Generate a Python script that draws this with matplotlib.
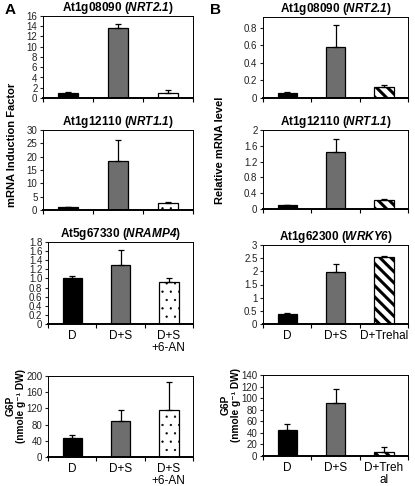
import matplotlib
matplotlib.use("Agg")
import matplotlib.pyplot as plt
import numpy as np

plt.rcParams['font.family'] = ['Liberation Sans', 'DejaVu Sans']
plt.rcParams['mathtext.fontset'] = 'custom'
# gene names in the titles: bold italic, digits too
plt.rcParams['mathtext.it'] = 'Liberation Sans:italic:bold'
plt.rcParams['mathtext.rm'] = 'Liberation Sans:italic:bold'
plt.rcParams['mathtext.bf'] = 'Liberation Sans:bold'

W, H = 415, 486

# panel A data
a_titles = ['At1g08090 ($NRT2.1$)', 'At1g12110 ($NRT1.1$)',
            'At5g67330 ($NRAMP4$)', None]
a_vals = [[1.0, 13.6, 1.0], [1.0, 18.5, 2.5], [1.0, 1.3, 0.92], [46, 90, 116]]
a_errs = [[0.2, 0.9, 0.6], [0.3, 7.8, 0.5], [0.05, 0.33, 0.1], [9, 25, 70]]
a_yticks = [[0, 2, 4, 6, 8, 10, 12, 14, 16],
            [0, 5, 10, 15, 20, 25, 30],
            [0, 0.2, 0.4, 0.6, 0.8, 1.0, 1.2, 1.4, 1.6, 1.8],
            [0, 40, 80, 120, 160, 200]]
a_ylabels = [['0', '2', '4', '6', '8', '10', '12', '14', '16'],
             ['0', '5', '10', '15', '20', '25', '30'],
             ['0', '0.2', '0.4', '0.6', '0.8', '1.0', '1.2', '1.4', '1.6', '1.8'],
             ['0', '40', '80', '120', '160', '200']]
a_cats = ['D', 'D+S', 'D+S\n+6-AN']

# panel B data
b_titles = ['At1g08090 ($NRT2.1$)', 'At1g12110 ($NRT1.1$)',
            'At1g62300 ($WRKY6$)', None]
b_vals = [[0.06, 0.58, 0.13], [0.09, 1.44, 0.24], [0.39, 1.98, 2.55], [45, 91, 7]]
b_errs = [[0.005, 0.25, 0.02], [0.02, 0.33, 0.02], [0.03, 0.3, 0.05], [10, 25, 8]]
b_yticks = [[0, 0.2, 0.4, 0.6, 0.8],
            [0, 0.4, 0.8, 1.2, 1.6, 2.0],
            [0, 0.5, 1, 1.5, 2, 2.5, 3],
            [0, 20, 40, 60, 80, 100, 120, 140]]
b_ylabels = [['0', '0.2', '0.4', '0.6', '0.8'],
             ['0', '0.4', '0.8', '1.2', '1.6', '2'],
             ['0', '0.5', '1', '1.5', '2', '2.5', '3'],
             ['0', '20', '40', '60', '80', '100', '120', '140']]
b_ymax = [0.92, 2, 3, 140]
b_cats3 = ['D', 'D+S', 'D+Trehal']
b_cats4 = ['D', 'D+S', 'D+Treh\nal']

# pixel boxes (left, top, right, bottom)
a_boxes = [(43, 16, 193, 98), (43, 130, 193, 210), (48, 242, 193, 324), (48, 376, 193, 457)]
b_boxes = [(263, 17, 408, 98), (263, 130, 408, 209), (263, 245, 408, 324), (263, 375, 408, 456)]

fig = plt.figure(figsize=(W / 100, H / 100), dpi=100)


def make_ax(box):
    l, t, r, b = box
    return fig.add_axes([l / W, 1 - b / H, (r - l) / W, (b - t) / H])


def draw(ax, vals, errs, yticks, ylabels, ymax, third_hatch, title, cats):
    x = np.arange(3)
    plt.rcParams['hatch.linewidth'] = 1.0
    ax.bar(x[0], vals[0], 0.4, color='black', edgecolor='black', linewidth=0.9, zorder=2)
    ax.bar(x[1], vals[1], 0.4, color='#6e6e6e', edgecolor='black', linewidth=0.9, zorder=2)
    if third_hatch == 'dots':
        plt.rcParams['hatch.linewidth'] = 0.4
        ax.bar(x[2], vals[2], 0.4, color='white', edgecolor='black', linewidth=0.9,
               hatch='..', zorder=2)
    else:
        plt.rcParams['hatch.linewidth'] = 2.2
        ax.bar(x[2], vals[2], 0.4, color='white', edgecolor='black', linewidth=0.9,
               hatch='\\\\\\', zorder=2)
    ax.errorbar(x, vals, yerr=[np.zeros(3), errs], fmt='none', ecolor='black',
                elinewidth=0.9, capsize=2.5, capthick=0.9, zorder=3)
    ax.set_xlim(-0.5, 2.5)
    ax.set_ylim(0, ymax)
    ax.set_yticks(yticks)
    ax.set_yticklabels(ylabels)
    ax.set_xticks([-0.5, 0.5, 1.5, 2.5])
    ax.set_xticklabels([])
    ax.tick_params(axis='y', direction='out', length=2.5, width=0.8, labelsize=7, pad=1.5,
                   colors='#222222')
    ax.tick_params(axis='x', direction='out', length=3, width=0.8)
    if cats is not None:
        ax.set_xticks(x, minor=True)
        ax.set_xticklabels(cats, minor=True, fontsize=8.5, linespacing=1.05)
        ax.tick_params(axis='x', which='minor', length=0, pad=4)
    for s in ['top', 'right', 'left']:
        ax.spines[s].set_linewidth(0.7)
    ax.spines['bottom'].set_linewidth(1.4)
    if title:
        ax.set_title(title, fontsize=8.5, fontweight='bold', pad=3)


for i in range(4):
    ax = make_ax(a_boxes[i])
    ymax = a_yticks[i][-1]
    draw(ax, a_vals[i], a_errs[i], a_yticks[i], a_ylabels[i], ymax, 'dots', a_titles[i],
         a_cats if i >= 2 else None)

for i in range(4):
    ax = make_ax(b_boxes[i])
    cats = None
    if i == 2:
        cats = b_cats3
    elif i == 3:
        cats = b_cats4
    draw(ax, b_vals[i], b_errs[i], b_yticks[i], b_ylabels[i], b_ymax[i], 'stripes', b_titles[i],
         cats)

fig.text(5 / W, 1 - 10 / H, 'A', fontsize=11, fontweight='bold', va='center', ha='left')
fig.text(210 / W, 1 - 10 / H, 'B', fontsize=11, fontweight='bold', va='center', ha='left')

fig.text(12 / W, 1 - 145 / H, 'mRNA Induction Factor', rotation=90, fontsize=8,
         fontweight='bold', ha='center', va='center')
fig.text(220 / W, 1 - 150 / H, 'Relative mRNA level', rotation=90, fontsize=8,
         fontweight='bold', ha='center', va='center')
g6p = 'G6P\n(nmole g\u207b\u00b9 DW)'
fig.text(16 / W, 1 - 406 / H, g6p, rotation=90, fontsize=7.3, fontweight='bold',
         ha='center', va='center', multialignment='center', linespacing=1.0)
fig.text(231 / W, 1 - 405 / H, g6p, rotation=90, fontsize=7.3, fontweight='bold',
         ha='center', va='center', multialignment='center', linespacing=1.0)

fig.savefig('out.png', dpi=100)
